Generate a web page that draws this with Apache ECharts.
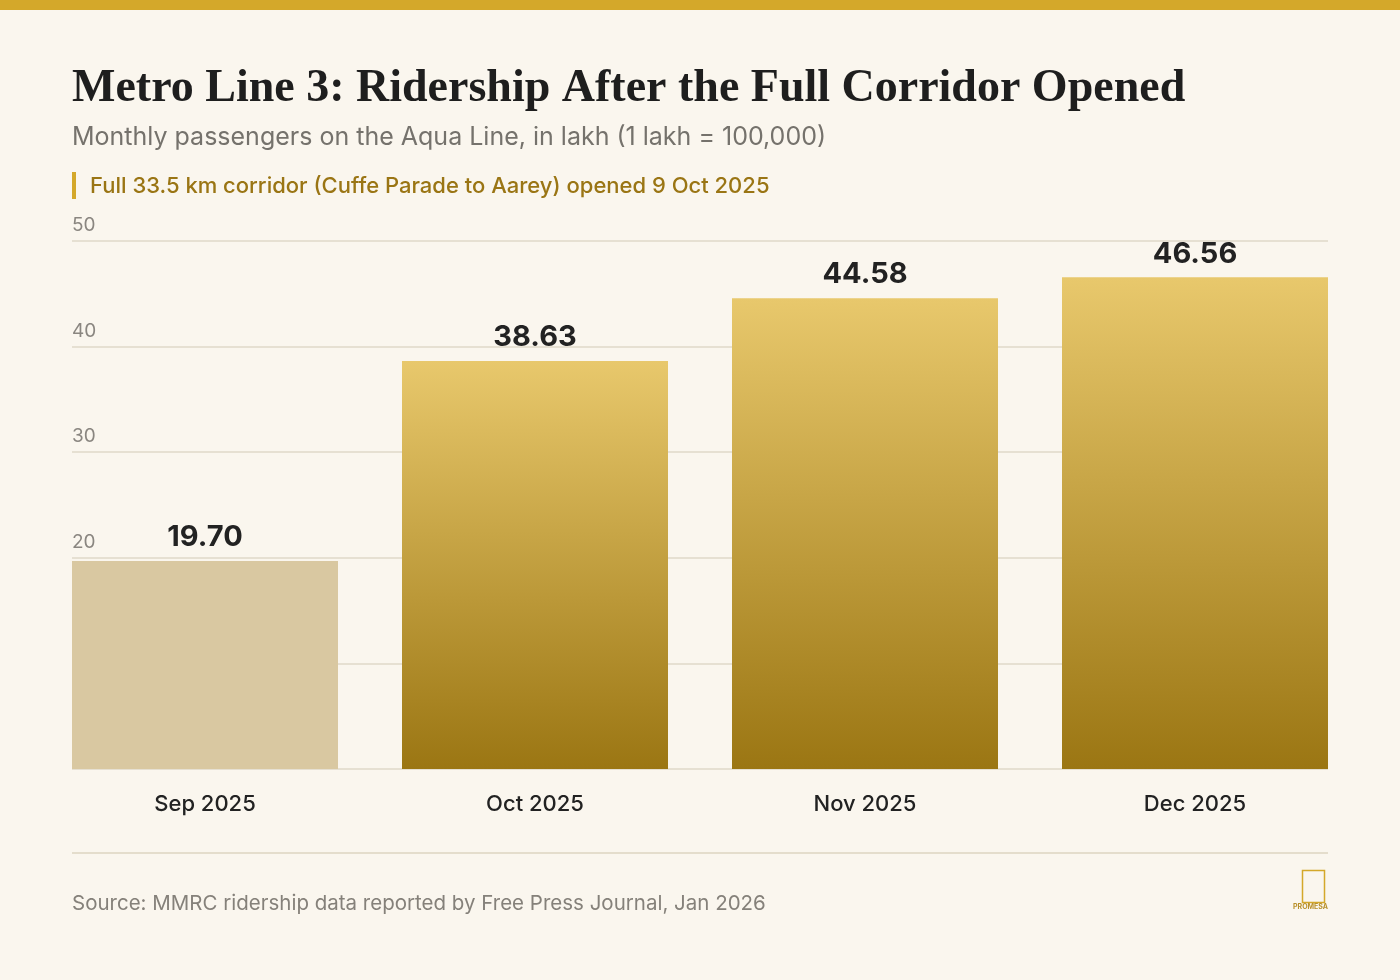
<!DOCTYPE html>
<html>
<head>
<meta charset="utf-8">
<script src="https://cdn.jsdelivr.net/npm/echarts@6/dist/echarts.min.js"></script>
<style>
  html, body { margin: 0; padding: 0; background: #faf6ee; }
  #main { width: 1400px; height: 980px; }
</style>
</head>
<body>
<div id="main"></div>
<script>
var months = ['Sep 2025', 'Oct 2025', 'Nov 2025', 'Dec 2025'];
var riders = [19.70, 38.63, 44.58, 46.56];
var shownTicks = [20, 30, 40, 50];

var myChart = echarts.init(document.getElementById('main'));

var goldGrad = new echarts.graphic.LinearGradient(0, 0, 0, 1, [
  { offset: 0, color: '#e8c86c' },
  { offset: 1, color: '#9b7613' }
]);

var barData = riders.map(function (v, i) {
  return { value: v, itemStyle: { color: i === 0 ? '#d9c8a1' : goldGrad } };
});

var font = 'Inter, "Noto Sans", sans-serif';

var opt = {
  backgroundColor: '#faf6ee',
  grid: [
    { left: 72, right: 72, top: 241, bottom: 211 },
    { left: 40, right: 40, top: 241, bottom: 211 }
  ],
  xAxis: [
    { gridIndex: 0, type: 'category', data: months, show: false },
    {
      gridIndex: 1, type: 'category', data: months,
      axisLine: { show: false }, axisTick: { show: false },
      axisLabel: { color: '#222', fontSize: 22, fontWeight: 500, fontFamily: font, margin: 24 }
    }
  ],
  yAxis: [
    {
      gridIndex: 0, type: 'value', min: 0, max: 50, interval: 10,
      axisLine: { show: false }, axisTick: { show: false },
      splitLine: { lineStyle: { color: '#e6e0d2', width: 2 } },
      axisLabel: {
        inside: true, margin: 0, verticalAlign: 'bottom', padding: [0, 0, 6, 0],
        color: '#8a8680', fontSize: 19, fontFamily: font,
        formatter: function (v) { return shownTicks.indexOf(v) >= 0 ? v : ''; }
      }
    },
    { gridIndex: 1, type: 'value', min: 0, max: 50, show: false }
  ],
  series: [
    {
      type: 'bar', xAxisIndex: 1, yAxisIndex: 1, barWidth: 266,
      data: barData,
      label: {
        show: true, position: 'top', distance: 9,
        color: '#222', fontSize: 29, fontWeight: 'bold', fontFamily: font,
        formatter: function (p) { return p.value.toFixed(2); }
      }
    }
  ],
  graphic: [
    { type: 'rect', left: 0, top: 0, shape: { width: 1400, height: 10 }, style: { fill: '#d4a82a' } },
    { type: 'text', left: 72, top: 66, style: { text: 'Metro Line 3: Ridership After the Full Corridor Opened', fill: '#1e1e1e', font: 'bold 46px "Liberation Serif", serif' } },
    { type: 'text', left: 72, top: 125, style: { text: 'Monthly passengers on the Aqua Line, in lakh (1 lakh = 100,000)', fill: '#75726c', font: '25px ' + font } },
    { type: 'rect', left: 72, top: 172, shape: { width: 4, height: 27 }, style: { fill: '#d4a82a' } },
    { type: 'text', left: 90, top: 175, style: { text: 'Full 33.5 km corridor (Cuffe Parade to Aarey) opened 9 Oct 2025', fill: '#9a7514', font: '500 22px ' + font } },
    { type: 'rect', left: 72, top: 852, shape: { width: 1256, height: 2 }, style: { fill: '#e4ddcc' } },
    { type: 'text', left: 72, top: 893, style: { text: 'Source: MMRC ridership data reported by Free Press Journal, Jan 2026', fill: '#85817a', font: '20.5px ' + font } },
    { type: 'rect', left: 1300, top: 868, shape: { width: 22, height: 32 }, style: { fill: 'none', stroke: '#d4a82a', lineWidth: 1.5 } },
    { type: 'text', left: 1293, top: 903, style: { text: 'PROMESA', fill: '#b8902a', font: 'bold 7px ' + font } }
  ]
};
myChart.setOption(opt);
</script>
</body>
</html>
